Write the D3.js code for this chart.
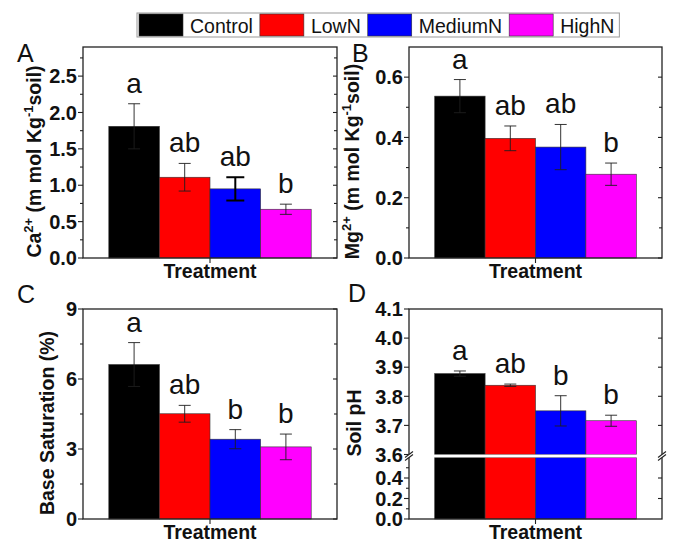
<!DOCTYPE html>
<html>
<head>
<meta charset="utf-8">
<script src="https://cdn.jsdelivr.net/npm/d3@7"></script>
<style>
  body { margin: 0; background: #fff; }
  svg { display: block; font-family: "Liberation Sans", Arial, sans-serif; }
</style>
</head>
<body>
<svg id="chart" width="688" height="556"></svg>
<script>
// Soil cations / base saturation / pH under N treatments, four panels (A-D).

const groups = ["Control", "LowN", "MediumN", "HighN"];
const groupColors = ["#000000", "#ff0000", "#0000ff", "#ff00ff"];

// A: exchangeable Ca2+
const caMean = [1.81, 1.11, 0.95, 0.67];
const caErr = [0.31, 0.19, 0.16, 0.07];
const caLetters = ["a", "ab", "ab", "b"];
const caTicks = [0, 0.5, 1.0, 1.5, 2.0, 2.5];

// B: exchangeable Mg2+
const mgMean = [0.537, 0.397, 0.368, 0.278];
const mgErr = [0.055, 0.041, 0.075, 0.037];
const mgLetters = ["a", "ab", "ab", "b"];
const mgTicks = [0, 0.2, 0.4, 0.6];

// C: base saturation (%)
const bsMean = [6.62, 4.51, 3.42, 3.09];
const bsErr = [0.94, 0.36, 0.41, 0.55];
const bsLetters = ["a", "ab", "b", "b"];
const bsTicks = [0, 3, 6, 9];

// D: soil pH (broken axis 0.6 .. 3.6)
const phMean = [3.878, 3.838, 3.750, 3.716];
const phErr = [0.009, 0.004, 0.052, 0.019];
const phLetters = ["a", "ab", "b", "b"];
const phTicks = [0, 0.2, 0.4, 3.6, 3.7, 3.8, 3.9, 4.0, 4.1];

const svg = d3.select("#chart");

// ---- legend across the top
const leg = svg.append("g");
const legBox = leg.append("rect")
  .attr("y", 13).attr("height", 24)
  .attr("fill", "#fff").attr("stroke", "#999").attr("stroke-width", 1);
let lx = 139;
groups.forEach((g, i) => {
  leg.append("rect")
    .attr("x", lx).attr("y", 14).attr("width", 44).attr("height", 22)
    .attr("fill", groupColors[i]).attr("stroke", "#333").attr("stroke-width", 0.6);
  const t = leg.append("text")
    .attr("x", lx + 51).attr("y", 32.5)
    .attr("font-size", 19.5).attr("fill", "#111")
    .text(g);
  lx += 51 + t.node().getComputedTextLength() + 7;
});
legBox.attr("x", 137).attr("width", lx - 137 - 2);

// ---- one panel
function panel(cfg) {
  const { left, right, top, bottom } = cfg.frame;
  const g = svg.append("g");

  const x = d3.scaleBand().domain(groups).range([left, right])
    .paddingInner(0).paddingOuter(0.51);
  const y = cfg.y;
  const y0 = y(0);

  // bars
  g.append("g").selectAll("rect")
    .data(groups)
    .join("rect")
    .attr("x", d => x(d))
    .attr("width", x.bandwidth())
    .attr("y", (d, i) => y(cfg.mean[i]))
    .attr("height", (d, i) => y0 - y(cfg.mean[i]))
    .attr("fill", (d, i) => groupColors[i])
    .attr("stroke", "#333").attr("stroke-width", 0.6);

  // axis break strip over the bars
  if (cfg.breakAt) {
    const [b0, b1] = cfg.breakAt;
    const bx0 = x(groups[0]), bx1 = x(groups[groups.length - 1]) + x.bandwidth();
    g.append("rect")
      .attr("x", bx0 - 1).attr("width", bx1 - bx0 + 2)
      .attr("y", y(b1)).attr("height", y(b0) - y(b1))
      .attr("fill", "#fff");
    [b0, b1].forEach(v => g.append("line")
      .attr("x1", bx0).attr("x2", bx1).attr("y1", y(v)).attr("y2", y(v))
      .attr("stroke", "#888").attr("stroke-width", 0.6));
  }

  // error bars
  const eb = g.append("g").selectAll("g").data(groups).join("g");
  eb.each(function (d, i) {
    const cx = x(d) + x.bandwidth() / 2;
    const hi = y(cfg.mean[i] + cfg.err[i]);
    const lo = y(cfg.mean[i] - cfg.err[i]);
    const strong = cfg.strongErr === i;
    const col = strong ? "#000" : "#1e1e1e";
    const sw = strong ? 2 : 0.9;
    const cap = strong ? 9 : 6;
    const s = d3.select(this);
    s.append("line").attr("x1", cx).attr("x2", cx).attr("y1", hi).attr("y2", lo)
      .attr("stroke", col).attr("stroke-width", sw);
    [hi, lo].forEach(v => s.append("line")
      .attr("x1", cx - cap).attr("x2", cx + cap).attr("y1", v).attr("y2", v)
      .attr("stroke", col).attr("stroke-width", sw));
  });

  // significance letters
  g.append("g").selectAll("text")
    .data(groups)
    .join("text")
    .attr("x", d => x(d) + x.bandwidth() / 2)
    .attr("y", (d, i) => y(cfg.mean[i] + cfg.err[i]) - 11)
    .attr("text-anchor", "middle")
    .attr("font-size", 28).attr("fill", "#111")
    .text((d, i) => cfg.letters[i]);

  // frame
  const fc = "#222", fw = 1.3;
  g.append("rect")
    .attr("x", left).attr("y", top)
    .attr("width", right - left).attr("height", bottom - top)
    .attr("fill", "none").attr("stroke", fc).attr("stroke-width", fw);

  // ticks: left outward, right inward
  const ticks = g.append("g").attr("stroke", fc).attr("stroke-width", 1.1);
  cfg.ticks.forEach(v => {
    ticks.append("line").attr("x1", left - 5).attr("x2", left).attr("y1", y(v)).attr("y2", y(v));
    if (!cfg.noRightAt || !cfg.noRightAt.includes(v))
      ticks.append("line").attr("x1", right - 4).attr("x2", right).attr("y1", y(v)).attr("y2", y(v));
  });
  (cfg.minor || []).forEach(v => {
    ticks.append("line").attr("x1", left - 3).attr("x2", left).attr("y1", y(v)).attr("y2", y(v));
    if (cfg.minorRight !== false)
      ticks.append("line").attr("x1", right - 3).attr("x2", right).attr("y1", y(v)).attr("y2", y(v));
  });
  const cx = (left + right) / 2;
  ticks.append("line").attr("x1", cx).attr("x2", cx).attr("y1", bottom).attr("y2", bottom + 5);

  // tick labels
  g.append("g").selectAll("text")
    .data(cfg.ticks)
    .join("text")
    .attr("x", left - 6)
    .attr("y", d => y(d))
    .attr("dy", "0.36em")
    .attr("text-anchor", "end")
    .attr("font-size", 20).attr("font-weight", "bold").attr("fill", "#111")
    .text(d => d3.format(cfg.fmt)(d));

  // break marks on both vertical axes
  if (cfg.breakAt) {
    const ym = (y(cfg.breakAt[0]) + y(cfg.breakAt[1])) / 2;
    [left, right].forEach(ax => {
      g.append("polygon")
        .attr("points", `${ax - 4},${ym + 1.5} ${ax + 4},${ym - 4.5} ${ax + 4},${ym - 1.5} ${ax - 4},${ym + 4.5}`)
        .attr("fill", "#fff");
      [-1.5, 1.5].forEach(o => g.append("line")
        .attr("x1", ax - 4).attr("y1", ym + 3 + o)
        .attr("x2", ax + 4).attr("y2", ym - 3 + o)
        .attr("stroke", fc).attr("stroke-width", 1.1));
    });
  }

  // x title
  g.append("text")
    .attr("x", cx).attr("y", bottom + 20)
    .attr("text-anchor", "middle")
    .attr("font-size", 19.5).attr("font-weight", "bold").attr("fill", "#111")
    .text("Treatment");

  // y title (rotated, with superscripts)
  const yt = g.append("text")
    .attr("transform", `translate(${cfg.titleX},${(top + bottom) / 2 + 9}) rotate(-90)`)
    .attr("text-anchor", "middle")
    .attr("font-size", 19.5).attr("font-weight", "bold").attr("fill", "#111");
  cfg.title.forEach(p => {
    const ts = yt.append("tspan").text(p.t);
    if (p.sup) ts.attr("font-size", 13).attr("dy", -8);
    else if (p.after) ts.attr("dy", 8);
  });

  // panel letter
  svg.append("text")
    .attr("x", cfg.tag[1]).attr("y", cfg.tag[2])
    .attr("font-size", 25).attr("fill", "#111")
    .text(cfg.tag[0]);
}

const topRow = { top: 47, bottom: 258 };
const botRow = { top: 309, bottom: 519 };
const leftCol = { left: 83, right: 337 };
const rightCol = { left: 409, right: 662 };

panel({
  frame: { ...leftCol, ...topRow },
  y: d3.scaleLinear().domain([0, 2.9]).range([topRow.bottom, topRow.top]),
  mean: caMean, err: caErr, letters: caLetters,
  ticks: caTicks, minor: [0.25, 0.75, 1.25, 1.75, 2.25, 2.75], fmt: ".1f",
  strongErr: 2,
  title: [{ t: "Ca" }, { t: "2+", sup: true }, { t: " (m mol Kg", after: true },
          { t: "-1", sup: true }, { t: "soil)", after: true }],
  titleX: 41, tag: ["A", 17, 62],
});

panel({
  frame: { ...rightCol, ...topRow },
  y: d3.scaleLinear().domain([0, 0.7]).range([topRow.bottom, topRow.top]),
  mean: mgMean, err: mgErr, letters: mgLetters,
  ticks: mgTicks, minor: [0.1, 0.3, 0.5], fmt: ".1f",
  title: [{ t: "Mg" }, { t: "2+", sup: true }, { t: " (m mol Kg", after: true },
          { t: "-1", sup: true }, { t: "soil)", after: true }],
  titleX: 359, tag: ["B", 352, 62],
});

panel({
  frame: { ...leftCol, ...botRow },
  y: d3.scaleLinear().domain([0, 9]).range([botRow.bottom, botRow.top]),
  mean: bsMean, err: bsErr, letters: bsLetters,
  ticks: bsTicks, minor: [1.5, 4.5, 7.5], fmt: "d",
  title: [{ t: "Base Saturation (%)" }],
  titleX: 54, tag: ["C", 17, 303],
});

panel({
  frame: { ...rightCol, ...botRow },
  // piecewise scale: 0-0.6 below the break, 3.6-4.1 above it
  y: d3.scaleLinear().domain([0, 0.6, 3.6, 4.1])
    .range([botRow.bottom, 457.5, 454.5, botRow.top]),
  mean: phMean, err: phErr, letters: phLetters,
  ticks: phTicks, minor: [0.1, 0.3, 0.5], minorRight: false, fmt: ".1f",
  noRightAt: [0, 3.6, 4.1],
  breakAt: [0.6, 3.6],
  title: [{ t: "Soil pH" }],
  titleX: 361, tag: ["D", 348, 302],
});
</script>
</body>
</html>
